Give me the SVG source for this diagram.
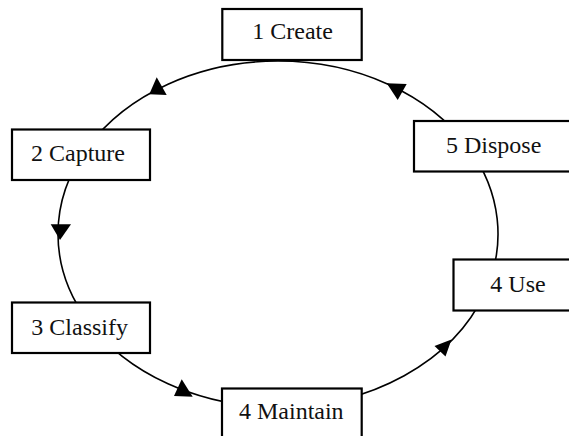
<svg xmlns="http://www.w3.org/2000/svg" width="569" height="436" viewBox="0 0 569 436">
  <style>
    .edge { fill: none; stroke: #000; stroke-width: 1.6; }
    .head { fill: #000; stroke: none; }
    .box { fill: #fff; stroke: #000; stroke-width: 2.2; }
    .label { font-family: "Liberation Serif", "Times New Roman", serif; font-size: 24px; fill: #111; text-anchor: middle; }
  </style>
  <rect x="0" y="0" width="569" height="436" fill="#fff"/>
  <g id="connectors">
    <g id="e-create-capture">
      <path class="edge" d="M 278 61 A 220 173 0 0 0 87.47 147.5"/>
      <polygon class="head" points="156.7,77.3 149.3,94.3 166.7,95"/>
    </g>
    <g id="e-capture-classify">
      <path class="edge" d="M 87.47 147.5 A 220 173 0 0 0 87.47 320.5"/>
      <polygon class="head" points="50.7,224.3 71,224.3 60,240"/>
    </g>
    <g id="e-classify-maintain">
      <path class="edge" d="M 87.47 320.5 A 220 173 0 0 0 278 407"/>
      <polygon class="head" points="181.7,379.3 174,396 192.7,396.7"/>
    </g>
    <g id="e-maintain-use">
      <path class="edge" d="M 278 407 A 220 173 0 0 0 484.73 293.17"/>
      <polygon class="head" points="451.5,339.5 434.5,346 445.5,356.5"/>
    </g>
    <g id="e-use-dispose">
      <path class="edge" d="M 484.73 293.17 A 220 173 0 0 0 468.53 147.5"/>
    </g>
    <g id="e-dispose-create">
      <path class="edge" d="M 468.53 147.5 A 220 173 0 0 0 278 61"/>
      <polygon class="head" points="386.7,83.3 406.7,84 397.7,100"/>
    </g>
  </g>
  <g id="n-create">
    <rect class="box" x="222.3" y="9" width="139.4" height="51"/>
    <text class="label" x="292.6" y="39">1 Create</text>
  </g>
  <g id="n-capture">
    <rect class="box" x="12" y="129.5" width="138" height="50.5"/>
    <text class="label" x="78" y="161">2 Capture</text>
  </g>
  <g id="n-classify">
    <rect class="box" x="12" y="302.5" width="138" height="50.5"/>
    <text class="label" x="79.7" y="335">3 Classify</text>
  </g>
  <g id="n-maintain">
    <rect class="box" x="222" y="388.5" width="139.7" height="51"/>
    <text class="label" x="291.3" y="419.3">4 Maintain</text>
  </g>
  <g id="n-use">
    <rect class="box" x="453.5" y="259.5" width="140" height="51"/>
    <text class="label" x="518" y="291.7">4 Use</text>
  </g>
  <g id="n-dispose">
    <rect class="box" x="414" y="121" width="170" height="50.5"/>
    <text class="label" x="493.7" y="152.7">5 Dispose</text>
  </g>
</svg>
